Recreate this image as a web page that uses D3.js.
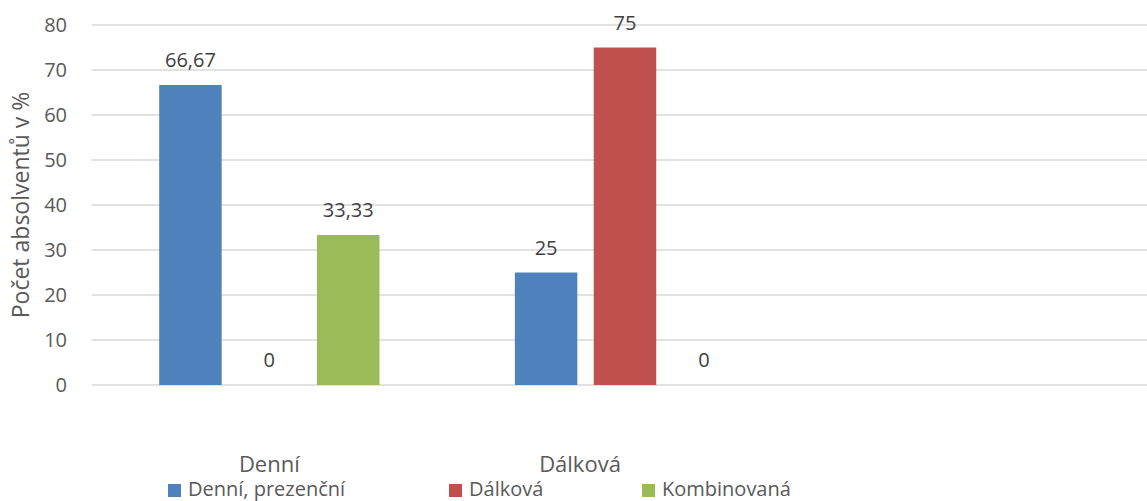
<!DOCTYPE html>
<html>
<head>
<meta charset="utf-8">
<script src="https://cdn.jsdelivr.net/npm/d3@7"></script>
<style>
  html, body { margin: 0; padding: 0; background: #fff; }
  svg { display: block; font-family: "Open Sans", sans-serif; }
</style>
</head>
<body>
<div id="chart"></div>
<script>
// data
const categories = ["Denní", "Dálková", ""];
const seriesNames = ["Denní, prezenční", "Dálková", "Kombinovaná"];
const seriesValues = [
  [66.67, 25, null],   // Denní, prezenční
  [0, 75, null],       // Dálková
  [33.33, 0, null]     // Kombinovaná
];
const yTicks = [0, 10, 20, 30, 40, 50, 60, 70, 80];
const colors = ["#4F81BD", "#C0504D", "#9BBB59"];

const width = 1147, height = 501;
const textColor = "#595959";
const catLabelDx = [0, -45, 0]; // category labels sit off-centre in the original

const svg = d3.select("#chart").append("svg")
  .attr("width", width)
  .attr("height", height)
  .attr("viewBox", [0, 0, width, height]);

const y = d3.scaleLinear().domain([0, 80]).range([385, 25]);
const x0 = d3.scaleBand().domain(categories).range([91.5, 1158.5]);
const x1 = d3.scaleBand().domain(seriesNames)
  .range([0, x0.bandwidth()])
  .paddingInner(0.208)
  .paddingOuter(0.858);

// gridlines
svg.append("g")
  .selectAll("line")
  .data(yTicks)
  .join("line")
  .attr("x1", x0.range()[0])
  .attr("x2", width)
  .attr("y1", d => y(d))
  .attr("y2", d => y(d))
  .attr("stroke", "#D9D9D9")
  .attr("stroke-width", 1.5);

// y tick labels
svg.append("g")
  .selectAll("text")
  .data(yTicks)
  .join("text")
  .attr("x", 67)
  .attr("y", d => y(d) + 7)
  .attr("text-anchor", "end")
  .attr("font-size", 20)
  .attr("fill", textColor)
  .text(d => d);

// y axis title
svg.append("text")
  .attr("transform", "translate(29,205) rotate(-90)")
  .attr("text-anchor", "middle")
  .attr("font-size", 23)
  .attr("fill", textColor)
  .text("Počet absolventů v %");

// bars
const rows = [];
categories.forEach((c, ci) => {
  seriesNames.forEach((s, si) => {
    const v = seriesValues[si][ci];
    if (v !== null) rows.push({ cat: c, series: s, si, value: v });
  });
});

const fmt = v => String(v).replace(".", ",");

const bars = svg.append("g");
bars.selectAll("rect")
  .data(rows.filter(d => d.value > 0))
  .join("rect")
  .attr("x", d => x0(d.cat) + x1(d.series))
  .attr("y", d => y(d.value))
  .attr("width", x1.bandwidth())
  .attr("height", d => y(0) - y(d.value))
  .attr("fill", d => colors[d.si]);

bars.selectAll("text")
  .data(rows)
  .join("text")
  .attr("x", d => x0(d.cat) + x1(d.series) + x1.bandwidth() / 2)
  .attr("y", d => y(d.value) - 18)
  .attr("text-anchor", "middle")
  .attr("font-size", 20)
  .attr("fill", "#404040")
  .text(d => fmt(d.value));

// category labels
svg.append("g")
  .selectAll("text")
  .data(categories)
  .join("text")
  .attr("x", (d, i) => x0(d) + x0.bandwidth() / 2 + catLabelDx[i])
  .attr("y", 472)
  .attr("text-anchor", "middle")
  .attr("font-size", 22)
  .attr("fill", textColor)
  .text(d => d);

// legend
const legendX = [168, 449, 642];
const legend = svg.append("g")
  .selectAll("g")
  .data(seriesNames)
  .join("g")
  .attr("transform", (d, i) => `translate(${legendX[i]},484)`);
legend.append("rect")
  .attr("width", 13)
  .attr("height", 13)
  .attr("fill", (d, i) => colors[i]);
legend.append("text")
  .attr("x", 20)
  .attr("y", 12)
  .attr("font-size", 20)
  .attr("fill", textColor)
  .text(d => d);
</script>
</body>
</html>
